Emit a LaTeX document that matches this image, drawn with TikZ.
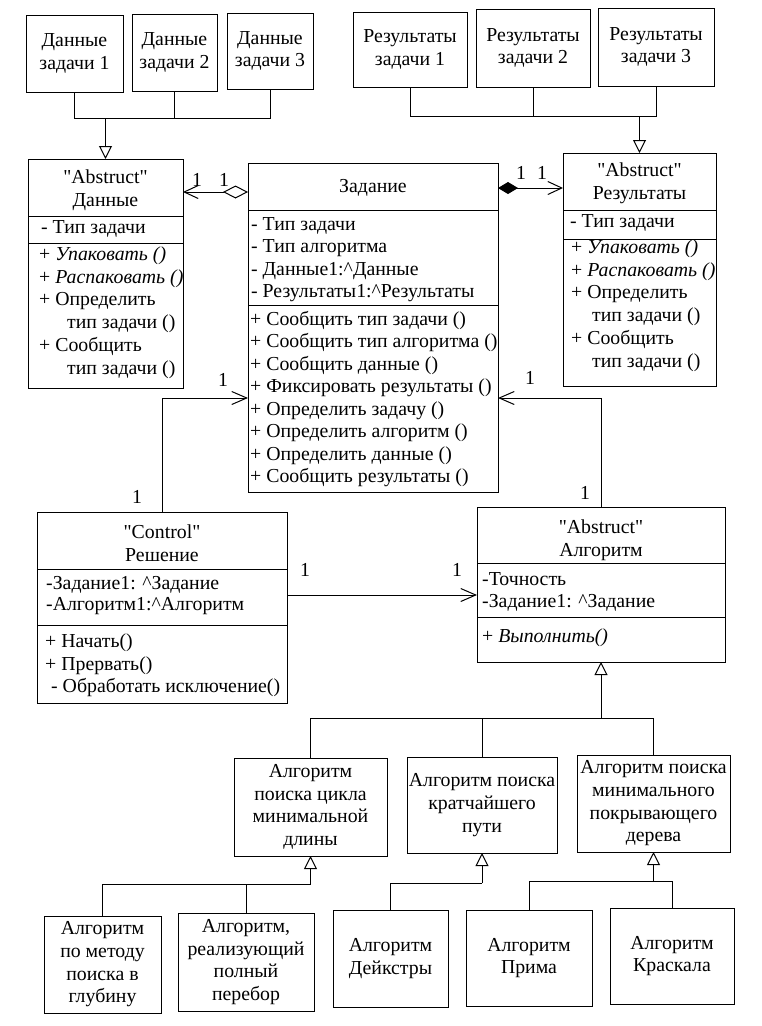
\documentclass[tikz,border=0pt]{standalone}
\usepackage{fontspec}
\setmainfont{Liberation Serif}
\usetikzlibrary{arrows.meta}
\tikzset{
    simplebox/.style={draw, line width=1pt, inner sep=0pt, outer sep=0pt, align=center},
    classbox/.style={draw, line width=1pt, inner sep=0pt, outer sep=0pt},
    head/.style={inner sep=0pt, align=center},
    txt/.style={inner sep=0pt, anchor=mid west},
    multlabel/.style={inner sep=0pt},
    conn/.style={line width=1pt},
    nav/.style={conn, -{Straight Barb[length=15pt,width=13pt]}},
    gen/.style={conn, -{Triangle[open,length=13pt,width=13pt]}},
    agg/.style={conn, {Diamond[open,length=25pt,width=13pt]}-{Straight Barb[length=14pt,width=13pt]}},
    comp/.style={conn, {Diamond[length=20pt,width=12pt]}-{Straight Barb[length=14pt,width=13pt]}}
}

\begin{document}
\begin{tikzpicture}[x=1pt, y=-1pt, font=\fontsize{19.8}{22.7}\selectfont]
    \path[use as bounding box, fill=white] (0,0) rectangle (762,1026);

    \foreach \n/\cx/\cy/\w/\h/\t in {d1/74.5/53.5/97/77/{Данные\\задачи 1},
            d2/174.5/52.5/85/77/{Данные\\задачи 2}, d3/270/51/86/76/{Данные\\задачи 3},
            r1/410/49.5/114/75/{Результаты\\задачи 1}, r2/533/48/114/78/{Результаты\\задачи 2},
            r3/656/47/116/78/{Результаты\\задачи 3}}{
        \node[simplebox, minimum width=\w, minimum height=\h] (\n) at (\cx,\cy) {\t};
    }

    \node[classbox, minimum width=155, minimum height=229] (AD) at (105.5,273.5) {};
    \node[classbox, minimum width=250, minimum height=329] (Zad) at (373,327.5) {};
    \node[classbox, minimum width=153, minimum height=233] (AR) at (639.5,269.5) {};
    \node[classbox, minimum width=250, minimum height=191] (Resh) at (162,607.5) {};
    \node[classbox, minimum width=248, minimum height=155] (Alg) at (601,584.5) {};
    \foreach \n/\s in {AD/216, AD/243, Zad/210, Zad/305, AR/210, AR/239,
            Resh/569, Resh/625, Alg/563, Alg/617}{
        \draw[conn] (\n.west |- 0,\s) -- (\n.east |- 0,\s);
    }

    \node[head] (ADh) at (105.5,190) {\textquotedbl Abstruct\textquotedbl\\Данные};
    \node[txt] (ADa) at (41,231) {- Тип задачи};
    \foreach \t [count=\i from 0] in {{+ \textit{Упаковать ()}}, {+ \textit{Распаковать ()}},
            {+ Определить}, {\hspace{28pt}тип задачи ()}, {+ Сообщить}, {\hspace{28pt}тип задачи ()}}{
        \node[txt] (ADm\i) at (39,258+22.8*\i) {\t};
    }

    \node[head, anchor=mid] (Zh) at (373,190) {Задание};
    \foreach \t [count=\i from 0] in {{- Тип задачи}, {- Тип алгоритма},
            {- Данные1:\textasciicircum Данные}, {- Результаты1:\textasciicircum Результаты}}{
        \node[txt] (Za\i) at (251,228+22.4*\i) {\t};
    }
    \foreach \t [count=\i from 0] in {{+ Сообщить тип задачи ()}, {+ Сообщить тип алгоритма ()},
            {+ Сообщить данные ()}, {+ Фиксировать результаты ()}, {+ Определить задачу ()},
            {+ Определить алгоритм ()}, {+ Определить данные ()}, {+ Сообщить результаты ()}}{
        \node[txt] (Zm\i) at (250,323+22.5*\i) {\t};
    }

    \node[head] (ARh) at (639.5,183) {\textquotedbl Abstruct\textquotedbl\\Результаты};
    \node[txt] (ARa) at (570,225) {- Тип задачи};
    \foreach \t [count=\i from 0] in {{+ \textit{Упаковать ()}}, {+ \textit{Распаковать ()}},
            {+ Определить}, {\hspace{21pt}тип задачи ()}, {+ Сообщить}, {\hspace{21pt}тип задачи ()}}{
        \node[txt] (ARm\i) at (571,251+22.8*\i) {\t};
    }

    \node[head] (Rh) at (162,543) {\textquotedbl Control\textquotedbl\\Решение};
    \node[txt] (Ra0) at (46,587) {-Задание1: \textasciicircum Задание};
    \node[txt] (Ra1) at (46,608) {-Алгоритм1:\textasciicircum Алгоритм};
    \node[txt] (Rm0) at (45,645) {+ Начать()};
    \node[txt] (Rm1) at (45,668) {+ Прервать()};
    \node[txt] (Rm2) at (51,690) {- Обработать исключение()};

    \node[head] (Ah) at (601,540) {\textquotedbl Abstruct\textquotedbl\\Алгоритм};
    \node[txt] (Aa0) at (482,583) {-Точность};
    \node[txt] (Aa1) at (482,605) {-Задание1: \textasciicircum Задание};
    \node[txt] (Am0) at (482,640) {+ \textit{Выполнить()}};

    \foreach \n/\cx/\cy/\w/\h/\t in {a1/310.5/807/153/98/{Алгоритм\\поиска цикла\\минимальной\\длины},
            a2/482/805/150/96/{Алгоритм поиска\\кратчайшего\\пути},
            a3/653.5/803.5/153/97/{Алгоритм поиска\\минимального\\покрывающего\\дерева},
            b1/102.5/964.5/117/97/{Алгоритм\\по методу\\поиска в\\глубину},
            b2/246/962/136/98/{Алгоритм,\\реализующий\\полный\\перебор},
            b3/390.5/958.5/115/97/{Алгоритм\\Дейкстры}, b4/529/958/126/96/{Алгоритм\\Прима},
            b5/672/956/124/96/{Алгоритм\\Краскала}}{
        \node[simplebox, minimum width=\w, minimum height=\h] (\n) at (\cx,\cy) {\t};
    }

    \coordinate (dhub) at (AD.north |- 0,118);
    \coordinate (rhub) at (AR.north |- 0,116);
    \foreach \n in {d1,d2,d3}{
        \draw[conn] (\n.south) |- (dhub);
    }
    \foreach \n in {r1,r2,r3}{
        \draw[conn] (\n.south) |- (rhub);
    }
    \draw[gen] (dhub) -- (AD.north);
    \draw[gen] (rhub) -- (AR.north);

    \coordinate (ahub) at (Alg.south |- 0,718);
    \foreach \n in {a1,a2,a3}{
        \draw[conn] (\n.north) |- (ahub);
    }
    \draw[gen] (ahub) -- (Alg.south);

    \coordinate (hub1) at (a1.south |- 0,884);
    \coordinate (hub2) at (a2.south |- 0,883);
    \coordinate (hub3) at (a3.south |- 0,881);
    \foreach \n/\h in {b1/hub1, b2/hub1, b3/hub2, b4/hub3, b5/hub3}{
        \draw[conn] (\n.north) |- (\h);
    }
    \draw[gen] (hub1) -- (a1.south);
    \draw[gen] (hub2) -- (a2.south);
    \draw[gen] (hub3) -- (a3.south);

    \draw[agg] (Zad.west |- 0,192) -- (AD.east |- 0,192);
    \draw[comp] (Zad.east |- 0,188) -- (AR.west |- 0,188);
    \draw[nav] (Resh.north) |- (Zad.west |- 0,398);
    \draw[nav] (Alg.north) |- (Zad.east |- 0,398);
    \draw[nav] (Resh.east |- 0,595) -- (Alg.west |- 0,595);

    \foreach \n/\lx/\ly in {m1/197/180, m2/224/180, m3/521/173, m4/542/173, m5/223/380,
            m6/137/497, m7/530/378, m8/585/493, m9/305/570, m10/457/570}{
        \node[multlabel] (\n) at (\lx,\ly) {1};
    }
\end{tikzpicture}
\end{document}
